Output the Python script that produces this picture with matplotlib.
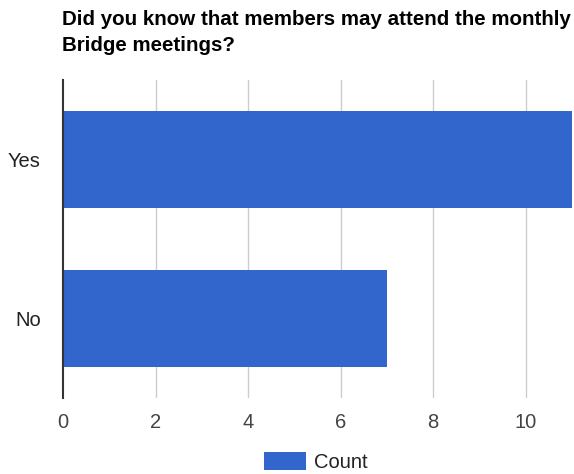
import numpy as np
import matplotlib.pyplot as plt

categories = ['No', 'Yes']
counts = [7, 11]
x_ticks = [0, 2, 4, 6, 8, 10]
title = "Did you know that members may attend the monthly\nBridge meetings?"

plt.rcParams['font.family'] = ['Liberation Sans', 'DejaVu Sans']

fig = plt.figure(figsize=(5.74, 4.74), dpi=100)
ax = fig.add_axes([0.1098, 0.1603, 0.8867, 0.6709])

y = np.arange(len(categories))
ax.barh(y, counts, height=0.615, color='#3366cc', label='Count', zorder=2)

# vertical grid lines
for xc in x_ticks[1:]:
    ax.axvline(xc, color='#cccccc', linewidth=1, zorder=1)

ax.set_xlim(0, 11)
ax.set_ylim(-0.5, 1.5)
ax.set_xticks(x_ticks)
ax.set_yticks(y)
ax.set_yticklabels(categories)
ax.tick_params(axis='x', length=0, pad=11, labelsize=14.5, labelcolor='#444444')
ax.tick_params(axis='y', length=0, pad=16, labelsize=14.5, labelcolor='#222222')

for side in ['top', 'right', 'bottom']:
    ax.spines[side].set_visible(False)
ax.spines['left'].set_color('#333333')
ax.spines['left'].set_linewidth(1.5)
ax.spines['left'].set_zorder(3)

fig.text(0.108, 0.979, title, fontsize=14.8, fontweight='bold', color='#000000',
         va='top', ha='left', linespacing=1.45)

fig.legend(loc='center', bbox_to_anchor=(0.55, 0.025), frameon=False, fontsize=14.5,
           handlelength=2.05, handleheight=1.0, handletextpad=0.4, labelcolor='#222222')

fig.savefig('out.png', dpi=100)
